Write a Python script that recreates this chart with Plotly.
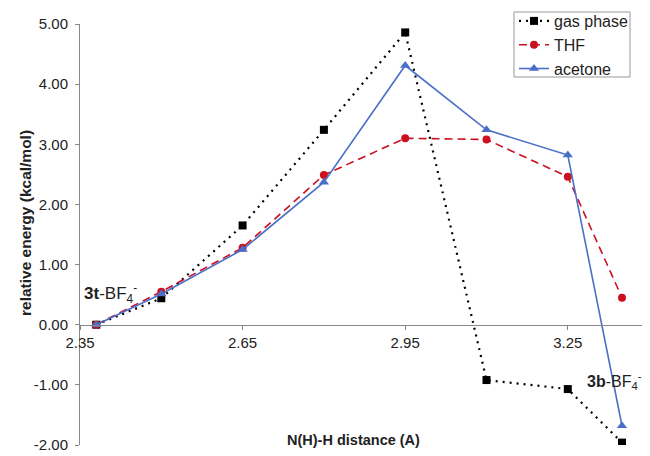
import plotly.graph_objects as go

distance = [2.38, 2.50, 2.65, 2.80, 2.95, 3.10, 3.25, 3.35]
gas_phase = [0.00, 0.44, 1.65, 3.24, 4.86, -0.92, -1.07, -1.96]
thf = [0.00, 0.55, 1.28, 2.49, 3.10, 3.08, 2.46, 0.45]
acetone = [0.00, 0.51, 1.25, 2.37, 4.31, 3.24, 2.82, -1.68]

y_ticks = [5, 4, 3, 2, 1, 0, -1, -2]
x_ticks = [2.35, 2.65, 2.95, 3.25]

FONT = "Liberation Sans, Arial, sans-serif"
RED = "#cc1020"
BLUE = "#4a6fc8"
TXT = "#222"

fig = go.Figure()
fig.add_trace(go.Scatter(x=distance, y=gas_phase, name="gas phase", mode="lines+markers",
                         line=dict(color="black", width=2.2, dash="2px,5px"),
                         marker=dict(symbol="square", size=8, color="black")))
fig.add_trace(go.Scatter(x=distance, y=thf, name="THF", mode="lines+markers",
                         line=dict(color=RED, width=1.6, dash="8px,5px"),
                         marker=dict(symbol="circle", size=8, color=RED)))
fig.add_trace(go.Scatter(x=distance, y=acetone, name="acetone", mode="lines+markers",
                         line=dict(color=BLUE, width=1.6),
                         marker=dict(symbol="triangle-up", size=9, color=BLUE)))

OFF = 8  # page body margin
W, H = 650, 456
L, T = 80 - OFF, 24 - OFF
B = H - (445 - OFF)
R = OFF
PW, PH = W - L - R, H - T - B
xmin, xmax = 2.35, 2.35 + PW / 542.0


def px_x(px):
    return (px - OFF - L) / PW


def px_y(py):
    return (H - B - (py - OFF)) / PH


fig.update_layout(
    width=W, height=H,
    margin=dict(l=L, r=R, t=T, b=B, autoexpand=False),
    paper_bgcolor="white", plot_bgcolor="white",
    font=dict(family=FONT, size=15, color=TXT),
    showlegend=True,
    legend=dict(x=px_x(514), y=px_y(4), xanchor="left", yanchor="top",
                borderwidth=0, bgcolor="rgba(0,0,0,0)",
                font=dict(family=FONT, size=16, color=TXT),
                tracegroupgap=0, itemwidth=30),
    shapes=[dict(type="rect", xref="paper", yref="paper",
                 x0=px_x(514), x1=px_x(630), y0=px_y(77), y1=px_y(12),
                 line=dict(color="#999", width=1), fillcolor="white", layer="above")],
    xaxis=dict(range=[xmin, xmax], tickvals=x_ticks, ticktext=[f"{v:.2f}" for v in x_ticks],
               anchor="free", position=2 / 7, showline=True, linecolor="#888", linewidth=1,
               ticks="outside", ticklen=4, tickcolor="#888", showgrid=False, zeroline=False,
               tickfont=dict(family=FONT, size=15, color=TXT)),
    yaxis=dict(range=[-2, 5], tickvals=y_ticks, ticktext=[f"{v:.2f}" for v in y_ticks],
               showline=True, linecolor="#888", linewidth=1, ticks="outside", ticklen=4,
               tickcolor="#888", showgrid=False, zeroline=False, ticklabelstandoff=4,
               tickfont=dict(family=FONT, size=15, color=TXT)),
    annotations=[
        dict(text="<b>relative energy (kcal/mol)</b>", xref="paper", yref="paper",
             x=px_x(25), y=px_y(223), showarrow=False, textangle=-90,
             font=dict(family=FONT, size=15.5, color=TXT), xanchor="center", yanchor="middle"),
        dict(text="<b>N(H)-H distance (A)</b>", xref="paper", yref="paper",
             x=px_x(353), y=px_y(440), showarrow=False,
             font=dict(family=FONT, size=14.5, color=TXT), xanchor="center", yanchor="middle"),
        dict(text="<b>3t</b>-BF<sub>4</sub><sup>-</sup>", xref="paper", yref="paper",
             x=px_x(82), y=px_y(293), showarrow=False, xanchor="left", yanchor="middle",
             font=dict(family=FONT, size=17, color=TXT)),
        dict(text="<b>3b</b>-BF<sub>4</sub><sup>-</sup>", xref="paper", yref="paper",
             x=px_x(585), y=px_y(381), showarrow=False, xanchor="left", yanchor="middle",
             font=dict(family=FONT, size=16, color=TXT)),
    ],
)

fig.write_html("out.html")
